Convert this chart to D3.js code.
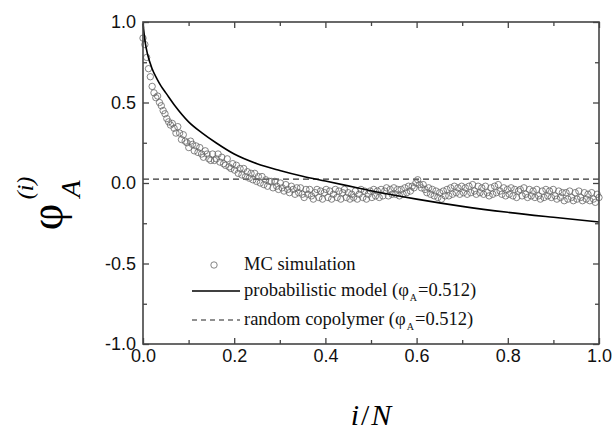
<!DOCTYPE html>
<html><head><meta charset="utf-8">
<script src="https://cdn.jsdelivr.net/npm/d3@7"></script>
<style>body{margin:0;background:#fff}svg{display:block}</style>
</head><body>
<svg id="c" width="616" height="436"></svg>
<script>
// ---- data ----
const xMajorTicks = [0, 0.2, 0.4, 0.6, 0.8, 1.0];
const xMinorTicks = [0.1, 0.3, 0.5, 0.7, 0.9];
const yMajorTicks = [-1.0, -0.5, 0.0, 0.5, 1.0];
const yMinorTicks = [-0.75, -0.25, 0.25, 0.75];

// MC simulation, i/N evenly spaced from 0 to 1
const mcY = [
 0.90,0.86,0.78,0.71,0.66,0.60,0.56,0.53,0.54,0.50,
 0.48,0.45,0.43,0.40,0.38,0.36,0.37,0.34,0.31,0.35,
 0.31,0.27,0.30,0.26,0.25,0.22,0.26,0.24,0.20,0.23,
 0.19,0.22,0.18,0.16,0.20,0.18,0.15,0.14,0.18,0.14,
 0.15,0.18,0.13,0.16,0.12,0.11,0.15,0.10,0.09,0.12,
 0.08,0.11,0.06,0.09,0.05,0.09,0.04,0.07,0.03,0.06,
 0.02,0.06,0.01,0.04,0.00,0.04,-0.01,0.02,-0.02,0.01,
 0.01,-0.03,0.01,-0.02,-0.04,0.00,-0.03,-0.05,-0.01,-0.04,
 -0.06,-0.02,-0.04,-0.07,-0.03,-0.06,-0.03,-0.07,-0.09,-0.04,
 -0.07,-0.04,-0.08,-0.10,-0.06,-0.04,-0.09,-0.05,-0.10,-0.06,
 -0.04,-0.09,-0.05,-0.10,-0.07,-0.04,-0.09,-0.05,-0.10,-0.06,
 -0.04,-0.09,-0.06,-0.10,-0.07,-0.09,-0.05,-0.10,-0.07,-0.04,
 -0.09,-0.05,-0.10,-0.07,-0.05,-0.09,-0.04,-0.08,-0.05,-0.09,
 -0.04,-0.08,-0.05,-0.03,-0.08,-0.04,-0.07,-0.03,-0.07,-0.04,
 -0.08,-0.04,-0.07,-0.03,-0.06,-0.02,-0.05,-0.02,-0.03,0.00,
 0.02,-0.01,-0.03,-0.01,-0.04,-0.06,-0.03,-0.07,-0.04,-0.08,
 -0.05,-0.09,-0.06,-0.10,-0.05,-0.08,-0.04,-0.08,-0.03,-0.07,
 -0.02,-0.06,-0.03,-0.07,-0.02,-0.06,-0.03,-0.07,-0.02,-0.06,
 -0.01,-0.05,-0.07,-0.02,-0.06,-0.03,-0.07,-0.02,-0.06,-0.08,
 -0.03,-0.07,-0.02,-0.06,-0.01,-0.05,-0.07,-0.03,-0.08,-0.04,
 -0.07,-0.03,-0.08,-0.04,-0.09,-0.05,-0.04,-0.08,-0.03,-0.07,
 -0.09,-0.04,-0.08,-0.05,-0.09,-0.04,-0.08,-0.10,-0.05,-0.09,
 -0.04,-0.08,-0.05,-0.09,-0.04,-0.08,-0.10,-0.05,-0.09,-0.06,
 -0.11,-0.06,-0.10,-0.05,-0.09,-0.11,-0.06,-0.10,-0.05,-0.09,
 -0.11,-0.06,-0.10,-0.07,-0.11,-0.06,-0.10,-0.12,-0.07,-0.09
];

// probabilistic model curve
const modelX = [0, 0.005, 0.01, 0.02, 0.03, 0.04, 0.05, 0.07, 0.10, 0.13, 0.16, 0.20, 0.25, 0.30, 0.35, 0.40, 0.45, 0.50, 0.60, 0.70, 0.80, 0.90, 1.00];
const modelY = [0.99, 0.87, 0.80, 0.71, 0.65, 0.60, 0.56, 0.48, 0.38, 0.31, 0.25, 0.18, 0.12, 0.078, 0.042, 0.012, -0.018, -0.048, -0.10, -0.145, -0.182, -0.213, -0.242];

// random copolymer level
const randomLevel = 0.024;
const phiA = "0.512";

// ---- drawing ----
const svg = d3.select("#c");
const L = 143, R = 599, T = 22, B = 344;
const x = d3.scaleLinear().domain([0, 1]).range([L, R]);
const y = d3.scaleLinear().domain([-1, 1]).range([B, T]);
const axisColor = "#444";

// random copolymer dashed line
svg.append("line")
  .attr("x1", x(0)).attr("x2", x(1))
  .attr("y1", y(randomLevel)).attr("y2", y(randomLevel))
  .attr("stroke", "#333").attr("stroke-width", 1.3).attr("stroke-dasharray", "6,4");

// MC points
const n = mcY.length;
svg.append("g").selectAll("circle").data(mcY).join("circle")
  .attr("cx", (d, i) => x(i / (n - 1)))
  .attr("cy", d => y(d))
  .attr("r", 3.2)
  .attr("fill", "none").attr("stroke", "#666").attr("stroke-width", 0.8);

// model curve
const line = d3.line().x(d => x(d[0])).y(d => y(d[1])).curve(d3.curveMonotoneX);
svg.append("path")
  .datum(modelX.map((v, i) => [v, modelY[i]]))
  .attr("d", line)
  .attr("fill", "none").attr("stroke", "#000").attr("stroke-width", 1.6);

// axes
function styleAxis(g) {
  g.select(".domain").remove();
  g.selectAll(".tick line").attr("stroke", axisColor).attr("stroke-width", 1.3);
  g.selectAll("text").attr("font-family", "Liberation Sans, Arial, sans-serif")
    .attr("font-size", 18).attr("fill", "#111");
}
const fmt = d => d3.format(".1f")(d).replace("\u2212", "-");
svg.append("g").attr("transform", `translate(0,${B})`)
  .call(d3.axisBottom(x).tickValues(xMajorTicks).tickSizeInner(-6).tickSizeOuter(0).tickPadding(5).tickFormat(fmt))
  .call(styleAxis);
svg.append("g").attr("transform", `translate(0,${B})`)
  .call(d3.axisBottom(x).tickValues(xMinorTicks).tickSizeInner(-4).tickSizeOuter(0).tickFormat(""))
  .call(styleAxis);
svg.append("g").attr("transform", `translate(0,${T})`)
  .call(d3.axisTop(x).tickValues(xMajorTicks).tickSizeInner(-6).tickSizeOuter(0).tickFormat(""))
  .call(styleAxis);
svg.append("g").attr("transform", `translate(0,${T})`)
  .call(d3.axisTop(x).tickValues(xMinorTicks).tickSizeInner(-4).tickSizeOuter(0).tickFormat(""))
  .call(styleAxis);
svg.append("g").attr("transform", `translate(${L},0)`)
  .call(d3.axisLeft(y).tickValues(yMajorTicks).tickSizeInner(-6).tickSizeOuter(0).tickPadding(7).tickFormat(fmt))
  .call(styleAxis);
svg.append("g").attr("transform", `translate(${L},0)`)
  .call(d3.axisLeft(y).tickValues(yMinorTicks).tickSizeInner(-4).tickSizeOuter(0).tickFormat(""))
  .call(styleAxis);
svg.append("g").attr("transform", `translate(${R},0)`)
  .call(d3.axisRight(y).tickValues(yMajorTicks).tickSizeInner(-6).tickSizeOuter(0).tickFormat(""))
  .call(styleAxis);
svg.append("g").attr("transform", `translate(${R},0)`)
  .call(d3.axisRight(y).tickValues(yMinorTicks).tickSizeInner(-4).tickSizeOuter(0).tickFormat(""))
  .call(styleAxis);

// frame
svg.append("rect").attr("x", L).attr("y", T).attr("width", R - L).attr("height", B - T)
  .attr("fill", "none").attr("stroke", axisColor).attr("stroke-width", 1.6);

// legend
const lg = svg.append("g").attr("font-family", "Liberation Serif, Times New Roman, serif").attr("font-size", 18.5).attr("fill", "#111");
const lx0 = 192, lx1 = 240, tx = 244;
const ly = [265, 291, 320];
lg.append("circle").attr("cx", (lx0 + lx1) / 2 - 2).attr("cy", ly[0]).attr("r", 3.2)
  .attr("fill", "none").attr("stroke", "#666").attr("stroke-width", 0.8);
lg.append("text").attr("x", tx).attr("y", ly[0] + 5).text("MC simulation");
lg.append("line").attr("x1", lx0).attr("x2", lx1).attr("y1", ly[1]).attr("y2", ly[1])
  .attr("stroke", "#000").attr("stroke-width", 1.4);
const t2 = lg.append("text").attr("x", tx).attr("y", ly[1] + 5);
t2.append("tspan").text("probabilistic model (φ");
t2.append("tspan").attr("font-size", 10).attr("dx", 1).attr("dy", 5).text("A");
t2.append("tspan").attr("dx", 1).attr("dy", -5).text("=" + phiA + ")");
lg.append("line").attr("x1", lx0).attr("x2", lx1).attr("y1", ly[2]).attr("y2", ly[2])
  .attr("stroke", "#222").attr("stroke-width", 1.2).attr("stroke-dasharray", "5,4");
const t3 = lg.append("text").attr("x", tx).attr("y", ly[2] + 5);
t3.append("tspan").text("random copolymer (φ");
t3.append("tspan").attr("font-size", 10).attr("dx", 1).attr("dy", 5).text("A");
t3.append("tspan").attr("dx", 1).attr("dy", -5).text("=" + phiA + ")");

// x axis title
const xt = svg.append("text").attr("x", 371).attr("y", 425).attr("text-anchor", "middle")
  .attr("font-family", "Liberation Serif, Times New Roman, serif").attr("font-size", 30).attr("font-style", "italic").attr("fill", "#000");
xt.append("tspan").text("i");
xt.append("tspan").attr("dx", 2).attr("font-style", "normal").text("/");
xt.append("tspan").attr("dx", 2).text("N");

// y axis title
const yt = svg.append("g").attr("transform", "translate(50,217) rotate(-90)")
  .attr("font-family", "Liberation Serif, Times New Roman, serif").attr("fill", "#000");
yt.append("text").attr("x", 0).attr("y", 12).attr("text-anchor", "middle").attr("font-size", 46).text("φ");
yt.append("text").attr("x", 29).attr("y", -17).attr("text-anchor", "middle").attr("font-size", 24).attr("font-style", "italic").text("(i)");
yt.append("text").attr("x", 28).attr("y", 30).attr("text-anchor", "middle").attr("font-size", 28).attr("font-style", "italic").text("A");
</script>
</body></html>
